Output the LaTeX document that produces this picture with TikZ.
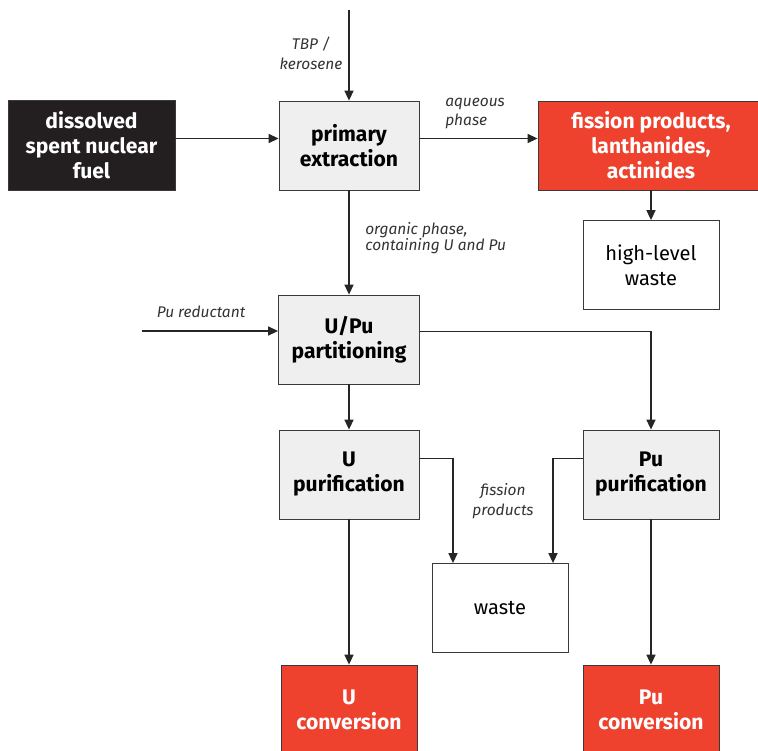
\documentclass[tikz,border=0pt]{standalone}
\usepackage{fontspec}
\setmainfont{Fira Sans}
\usetikzlibrary{positioning,arrows.meta}
\definecolor{fpred}{HTML}{EE412E}
\definecolor{fuelblack}{HTML}{231F20}
\definecolor{stepgray}{HTML}{EFEFEF}
\definecolor{edgegray}{HTML}{3A3A3A}

\begin{document}
\begin{tikzpicture}[x=0.025cm,y=-0.025cm,
      mynode/.style = {rectangle, draw=edgegray, line width=0.6pt, minimum width=3.4cm, minimum height=2.225cm, align=center, font=\fontsize{14.3}{17.8}\selectfont},
      mp/.style = {mynode, fill=stepgray, font=\fontsize{15}{17.8}\selectfont\bfseries},
      mr/.style = {mynode, fill=fpred, text=white, font=\fontsize{15}{17.8}\selectfont\bfseries},
      mf/.style = {mynode, fill=fuelblack, text=white, font=\fontsize{15}{17.8}\selectfont\bfseries},
      mw/.style = {mynode, fill=white},
      rel/.style = {font=\fontsize{11}{14.2}\selectfont\itshape, text=black!80, inner sep=0pt},
      flow/.style = {-{Triangle[length=7pt,width=6.4pt]}, line width=0.8pt, draw=black!85},
      ]
      \useasboundingbox (0,0) rectangle (758,751);
      % process boxes
      \node[mf, minimum width=4.175cm, minimum height=2.25cm] (fuel) at (91.5,145.5) {dissolved\\spent nuclear\\fuel};
      \node[mp, minimum width=3.5cm] (prim) at (349,145.5) {primary\\extraction};
      \node[mr, minimum width=5.65cm] (fp) at (651,145.5) {fission products,\\lanthanides,\\actinides};
      \node[mw] (hlw) at (651,265) {high-level\\waste};
      \node[mp, minimum width=3.525cm] (part) at (349,339.5) {U/Pu\\partitioning};
      \node[mp, minimum width=3.5cm] (upur) at (349,474.5) {U\\purification};
      \node[mp] (pupur) at (651,474.5) {Pu\\purification};
      \node[mw] (waste) at (500,608) {waste};
      \node[mr] (ucon) at (349,709.5) {U\\conversion};
      \node[mr] (pucon) at (651,709.5) {Pu\\conversion};
      % free ends
      \coordinate (solvent) at (349,10);
      \coordinate (reductant) at (142,331);
      % flows
      \draw[flow] (solvent) -- (prim.north);
      \draw[flow] ([yshift=0.175cm]fuel.east) -- ([yshift=0.175cm]prim.west);
      \draw[flow] ([yshift=0.175cm]prim.east) -- ([yshift=0.175cm]prim.east -| fp.west);
      \draw[flow] (fp.south) -- (hlw.north);
      \draw[flow] (prim.south) -- (part.north);
      \draw[flow] (reductant) -- (reductant -| part.west);
      \draw[flow] ([yshift=0.19cm]part.east) -| (pupur.north);
      \draw[flow] (part.south) -- (upur.north);
      \draw[flow] ([yshift=0.41cm]upur.east) -| ([xshift=-1.175cm]waste.north);
      \draw[flow] ([yshift=0.41cm]pupur.west) -| ([xshift=1.325cm]waste.north);
      \draw[flow] (upur.south) -- (ucon.north);
      \draw[flow] (pupur.south) -- (pucon.north);
      % labels
      \node[rel, align=center] (tbp) at (311,53) {TBP /\\kerosene};
      \node[rel, align=left, anchor=west] (aq) at (445,113.5) {aqueous\\phase};
      \node[rel, align=left, anchor=west, font=\fontsize{11}{11.5}\selectfont\itshape] (org) at (365,238) {organic phase,\\containing U and Pu};
      \node[rel] (red) at (201,312) {Pu reductant};
      \node[rel, align=center] (fiss) at (503,501) {fission\\products};
\end{tikzpicture}
\end{document}
